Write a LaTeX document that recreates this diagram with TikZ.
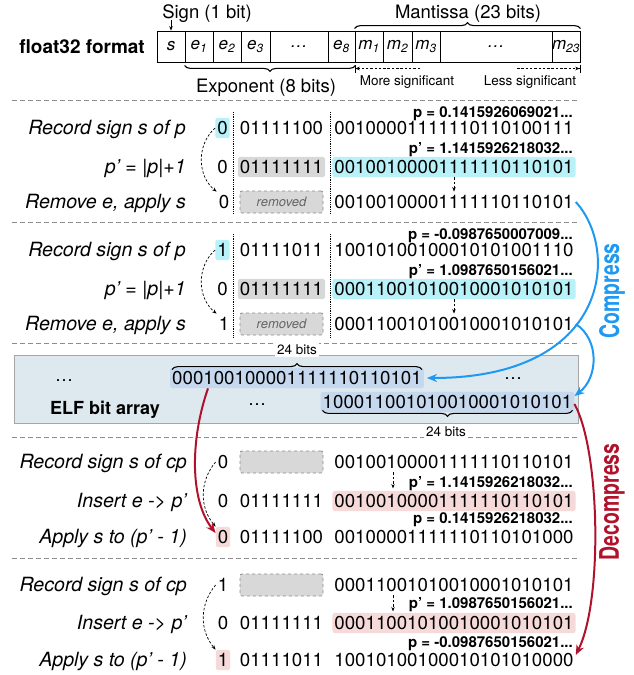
\documentclass[tikz,border=0pt]{standalone}
\usepackage{fontspec}
\setmainfont{TeX Gyre Heros}
\usepackage{tikz}
\usetikzlibrary{arrows.meta, decorations.pathreplacing}
\definecolor{cyanhl}{HTML}{B8F1F8}
\definecolor{grayhl}{HTML}{D8D8D8}
\definecolor{pinkhl}{HTML}{F6DADA}
\definecolor{elfbg}{HTML}{DDE9EF}
\definecolor{elfhl}{HTML}{C5D8EE}
\definecolor{compblue}{HTML}{1E98F0}
\definecolor{decred}{HTML}{B0122B}
\definecolor{sepgray}{HTML}{8C8C8C}
\tikzstyle{bits} = [inner xsep=2pt, inner ysep=3.5pt, text height=13.4pt, text depth=0pt, rounded corners=2.5pt, font=\fontsize{18.7}{20}\selectfont]
\tikzstyle{steplabel} = [anchor=east, inner sep=0pt, text height=13.8pt, text depth=0pt, font=\fontsize{19.6}{21}\selectfont\itshape]
\tikzstyle{value} = [anchor=base east, inner sep=0pt, font=\fontsize{15}{17}\selectfont\bfseries]
\tikzstyle{cell} = [draw=black, line width=0.8pt, minimum height=31pt, inner sep=0pt, font=\fontsize{17}{19}\selectfont\itshape]
\tikzstyle{hidden} = [draw=sepgray, dashed, line width=0.8pt, fill=grayhl, rounded corners=2pt, minimum width=83pt, minimum height=22pt, inner sep=0pt, text=black!60, font=\fontsize{13}{15}\selectfont\itshape]
\tikzstyle{arrow} = [line width=0.7pt, -{Stealth[length=4.5pt,width=3.5pt]}]
\tikzstyle{dasharrow} = [arrow, dash pattern=on 2.5pt off 1.8pt]
\tikzstyle{bigarrow} = [line width=2pt, -{Stealth[length=10pt,width=8pt]}]
\tikzstyle{separator} = [draw=sepgray, line width=0.9pt, dash pattern=on 5pt off 3pt]
\tikzstyle{brace} = [decorate, line width=1.1pt]

\begin{document}
\begin{tikzpicture}[x=1pt, y=-1pt,
cyanbox/.style={fill=cyanhl},
graybox/.style={fill=grayhl},
pinkbox/.style={fill=pinkhl},
elfbits/.style={bits, fill=elfhl},
note/.style={font=\fontsize{13.5}{15}\selectfont},
title/.style={inner sep=1pt, text height=13.2pt, text depth=0pt, font=\fontsize{18.5}{20}\selectfont},
dotline/.style={densely dotted, line width=0.8pt},
flowword/.style={rotate=90, font=\fontsize{27}{30}\selectfont\bfseries}
]
\useasboundingbox (0,0) rectangle (634,675);

\node (fmtlbl) [anchor=east, inner sep=0pt, font=\fontsize{19}{21}\selectfont\bfseries] at (145,46.5) {float32 format};
\node (cs) [cell, minimum width=28pt] at (171,46.5) {s};
\node (ce1) [cell, minimum width=28pt] at (199,46.5) {e\textsubscript{1}};
\node (ce2) [cell, minimum width=28pt] at (227,46.5) {e\textsubscript{2}};
\node (ce3) [cell, minimum width=29pt] at (255.5,46.5) {e\textsubscript{3}};
\node (cedots) [cell, minimum width=58pt] at (299,46.5) {\ldots};
\node (ce8) [cell, minimum width=27pt] at (341.5,46.5) {e\textsubscript{8}};
\node (cm1) [cell, minimum width=28pt] at (369,46.5) {m\textsubscript{1}};
\node (cm2) [cell, minimum width=29pt] at (397.5,46.5) {m\textsubscript{2}};
\node (cm3) [cell, minimum width=28pt] at (426,46.5) {m\textsubscript{3}};
\node (cmdots) [cell, minimum width=112pt] at (496,46.5) {\ldots};
\node (cm23) [cell, minimum width=28pt] at (566,46.5) {m\textsubscript{23}};
\node (signlbl) [title] at (207,12) {Sign (1 bit)};
\node (mantlbl) [title] at (468,11.5) {Mantissa (23 bits)};
\node (explbl) [title] at (266,85.5) {Exponent (8 bits)};
\node (morelbl) [note] at (407,82) {More significant};
\node (lesslbl) [note] at (530,82) {Less significant};
\coordinate (moretail) at (420,68.5);
\coordinate (lesstail) at (517,68.5);

\draw [arrow] (signlbl.south -| cs.north) -- (cs.north);
\draw [brace, decoration={brace, mirror, amplitude=6pt}] ([yshift=-3pt]ce1.south west) -- ([yshift=-3pt]ce8.south east);
\draw [brace, decoration={brace, amplitude=6pt}] ([yshift=2pt]cm1.north west) -- ([yshift=2pt]cm23.north east);
\draw [dasharrow, -{Stealth[length=4.5pt,width=3.5pt]Bar[width=8pt]}] (moretail) -- (moretail -| cm1.west);
\draw [dasharrow, -{Stealth[length=4.5pt,width=3.5pt]Bar[width=8pt]}] (lesstail) -- (lesstail -| cm23.east);

\draw [separator] (12,100) -- (578,100);
\draw [separator] (12,222) -- (578,222);
\draw [separator] (12,343) -- (578,343);
\draw [separator] (12,437) -- (578,437);
\draw [separator] (12,558) -- (578,558);

\node (c1l1) [steplabel] at (186,128) {Record sign s of p};
\node (c1l2) [steplabel] at (186,167) {p’ = |p|+1};
\node (c1l3) [steplabel] at (186,202) {Remove e, apply s};
\node (c1s1) [bits, cyanbox] at (222.5,128) {0};
\node (c1s2) [bits] at (222.5,167) {0};
\node (c1s3) [bits] at (224,202) {0};
\node (c1e1) [bits] at (281.5,128) {01111100};
\node (c1e2) [bits, graybox] at (281.5,167) {01111111};
\node (c1e3) [hidden] at (281.5,202) {removed};
\node (c1m1) [bits] at (454,128) {00100001111110110100111};
\node (c1m2) [bits, cyanbox] at (454,167) {00100100001111110110101};
\node (c1m3) [bits] at (454,202) {00100100001111110110101};
\node (c1v1) [value] at (573,117.5) {p = 0.1415926069021...};
\node (c1v2) [value] at (573,153.5) {p’ = 1.1415926218032...};
\draw [dotline] (233,112) -- (233,214);
\draw [dotline] (330,112) -- (330,214);
\draw [dasharrow] (c1m2) -- (c1m3);
\draw [dasharrow] (c1s1.west) to [bend right=50] (c1s3.north west);

\node (c2l1) [steplabel] at (186,250) {Record sign s of p};
\node (c2l2) [steplabel] at (186,289) {p’ = |p|+1};
\node (c2l3) [steplabel] at (186,324) {Remove e, apply s};
\node (c2s1) [bits, cyanbox] at (222.5,250) {1};
\node (c2s2) [bits] at (222.5,289) {0};
\node (c2s3) [bits] at (224,324) {1};
\node (c2e1) [bits] at (281.5,250) {01111011};
\node (c2e2) [bits, graybox] at (281.5,289) {01111111};
\node (c2e3) [hidden] at (281.5,324) {removed};
\node (c2m1) [bits] at (454,250) {10010100100010101001110};
\node (c2m2) [bits, cyanbox] at (454,289) {00011001010010001010101};
\node (c2m3) [bits] at (454,324) {00011001010010001010101};
\node (c2v1) [value] at (573,239.5) {p = -0.0987650007009...};
\node (c2v2) [value] at (573,275.5) {p’ = 1.0987650156021...};
\draw [dotline] (233,234) -- (233,338);
\draw [dotline] (330,234) -- (330,338);
\draw [dasharrow] (c2m2) -- (c2m3);
\draw [dasharrow] (c2s1.west) to [bend right=50] (c2s3.north west);

\node (elfbox) [draw=black!35, fill=elfbg, line width=0.9pt, minimum width=564pt, minimum height=68pt, inner sep=0pt] at (296,389) {};
\node (elfdots1) [anchor=base, font=\fontsize{18}{20}\selectfont] at (64,381) {\ldots};
\node (elfdots2) [anchor=base, font=\fontsize{18}{20}\selectfont] at (257,405) {\ldots};
\node (elfdots3) [anchor=base, font=\fontsize{18}{20}\selectfont] at (513,379) {\ldots};
\node (elflbl) [inner sep=0pt, text height=13pt, text depth=0pt, font=\fontsize{18}{20}\selectfont\bfseries] at (105,408) {ELF bit array};
\node (elf1) [elfbits] at (297,378) {000100100001111110110101};
\node (elf2) [elfbits] at (447.5,402) {100011001010010001010101};
\draw [brace, decoration={brace, amplitude=6pt}] ([xshift=2pt,yshift=-2pt]elf1.north west) -- ([xshift=-2pt,yshift=-2pt]elf1.north east);
\draw [brace, decoration={brace, mirror, amplitude=6pt}] ([xshift=2pt,yshift=2pt]elf2.south west) -- ([xshift=-2pt,yshift=2pt]elf2.south east);
\node (elfw1) [note, fill=white, inner sep=2pt] at (297,350) {24 bits};
\node (elfw2) [note, fill=white, inner sep=2pt] at (446,432) {24 bits};

\node (d1l1) [steplabel] at (187,462) {Record sign s of cp};
\node (d1l2) [steplabel] at (187,501) {Insert e -> p’};
\node (d1l3) [steplabel] at (187,537) {Apply s to (p’ - 1)};
\node (d1s1) [bits] at (223,462) {0};
\node (d1s2) [bits] at (223,501) {0};
\node (d1s3) [bits, pinkbox] at (223,537) {0};
\node (d1e1) [hidden] at (281.5,462) {};
\node (d1e2) [bits] at (281.5,501) {01111111};
\node (d1e3) [bits] at (281.5,537) {01111100};
\node (d1m1) [bits] at (454,462) {00100100001111110110101};
\node (d1m2) [bits, pinkbox] at (454,501) {00100100001111110110101};
\node (d1m3) [bits] at (454,537) {00100001111110110101000};
\node (d1v2) [value] at (573,487) {p’ = 1.1415926218032...};
\node (d1v3) [value] at (573,523) {p = 0.1415926218032...};
\draw [dasharrow] ([xshift=-61pt]d1m1.south) -- ++(0,16);
\draw [dasharrow] (d1s1.west) to [bend right=40] (d1s3.north west);

\node (d2l1) [steplabel] at (187,585) {Record sign s of cp};
\node (d2l2) [steplabel] at (187,623) {Insert e -> p’};
\node (d2l3) [steplabel] at (187,660) {Apply s to (p’ - 1)};
\node (d2s1) [bits] at (223,585) {1};
\node (d2s2) [bits] at (223,623) {0};
\node (d2s3) [bits, pinkbox] at (223,660) {1};
\node (d2e1) [hidden] at (281.5,585) {};
\node (d2e2) [bits] at (281.5,623) {01111111};
\node (d2e3) [bits] at (281.5,660) {01111011};
\node (d2m1) [bits] at (454,585) {00011001010010001010101};
\node (d2m2) [bits, pinkbox] at (454,623) {00011001010010001010101};
\node (d2m3) [bits] at (454,660) {10010100100010101010000};
\node (d2v2) [value] at (573,608) {p’ = 1.0987650156021...};
\node (d2v3) [value] at (573,647) {p = -0.0987650156021...};
\draw [dasharrow] ([xshift=-61pt]d2m1.south) -- ++(0,16);
\draw [dasharrow] (d2s1.west) to [bend right=40] (d2s3.north west);

\node (comptxt) [flowword, text=compblue] at (612,291) {\scalebox{0.72}[1]{Compress}};
\node (decomptxt) [flowword, text=decred] at (612,502) {\scalebox{0.72}[1]{Decompress}};

\draw [bigarrow, compblue] (c1m3.east) .. controls (620,250) and (610,378) .. ([xshift=3pt]elf1.east);
\draw [bigarrow, compblue] (c2m3.east) .. controls (600,340) and (598,378) .. ([yshift=6pt]elf2.east);
\draw [bigarrow, decred] ([xshift=-89pt]elf1.south) .. controls (190,440) and (190,500) .. ([yshift=4pt]d1s3.west);
\draw [bigarrow, decred] ([yshift=-2pt]elf2.east) .. controls (600,450) and (603,600) .. ([yshift=5pt]d2m3.east);
\end{tikzpicture}
\end{document}
